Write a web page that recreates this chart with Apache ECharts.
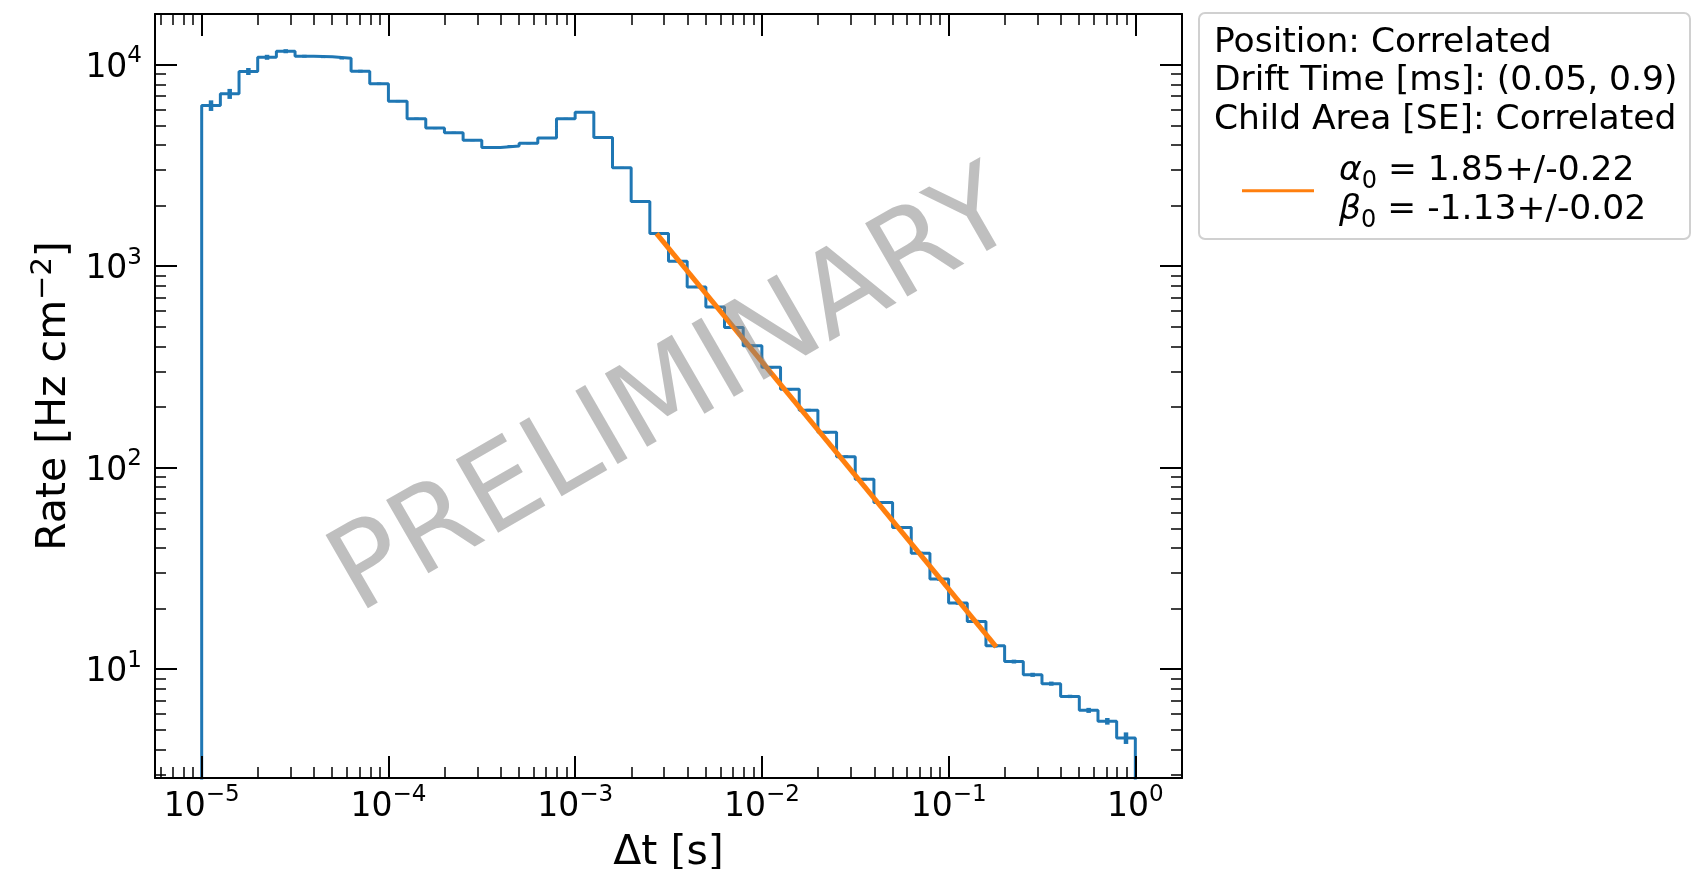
<!DOCTYPE html>
<html>
<head>
<meta charset="utf-8">
<script src="https://cdn.jsdelivr.net/npm/echarts@6/dist/echarts.min.js"></script>
<style>
html,body{margin:0;padding:0;background:#fff;}
#chart{width:1702px;height:869px;}
</style>
</head>
<body>
<div id="chart"></div>
<script>
// ---------------- data ----------------
// log10 of the histogram bin edges (10 bins per decade, 1e-5 .. 1 s)
const edgeExponents = [
  -5.0,-4.9,-4.8,-4.7,-4.6,-4.5,-4.4,-4.3,-4.2,-4.1,
  -4.0,-3.9,-3.8,-3.7,-3.6,-3.5,-3.4,-3.3,-3.2,-3.1,
  -3.0,-2.9,-2.8,-2.7,-2.6,-2.5,-2.4,-2.3,-2.2,-2.1,
  -2.0,-1.9,-1.8,-1.7,-1.6,-1.5,-1.4,-1.3,-1.2,-1.1,
  -1.0,-0.9,-0.8,-0.7,-0.6,-0.5,-0.4,-0.3,-0.2,-0.1,
   0.0
];
// rate per bin [Hz cm^-2]
const rates = [
  6280, 7180, 9270, 10900, 11680, 11030, 10950, 10780, 9300, 8050,
  6600, 5400, 4850, 4600, 4220, 3890, 3950, 4075, 4330, 5400,
  5820, 4360, 3080, 2094, 1452, 1059, 789, 628, 497, 403,
  315, 245, 193, 149.8, 113.4, 87.6, 67.1, 50.4, 37.6, 27.97,
  21.27, 17.24, 13.06, 10.9, 9.37, 8.47, 7.32, 6.24, 5.51, 4.55
];
// statistical uncertainty per bin
const rateErrors = [
  380, 410, 370, 310, 270, 180, 160, 160, 150, 120,
  90, 70, 60, 55, 50, 45, 45, 45, 50, 60,
  60, 50, 35, 25, 17, 13, 10, 8, 6.5, 5.5,
  4.5, 3.5, 3, 2.3, 1.8, 1.4, 1.1, 0.85, 0.65, 0.5,
  0.4, 0.33, 0.27, 0.24, 0.22, 0.2, 0.14, 0.18, 0.21, 0.3
];
// power-law fit drawn over its fit range
const fitX = [0.00273, 0.18];
const fitY = [1452, 12.9];

// axes
const xRange = [5.623e-6, 1.778];
const yRange = [2.88, 17870];
const xMajorTicks = [1e-5, 1e-4, 1e-3, 1e-2, 1e-1, 1];
const yMajorTicks = [1e1, 1e2, 1e3, 1e4];
const minorMantissas = [2, 3, 4, 5, 6, 7, 8, 9];
const xMinorDecades = [1e-6, 1e-5, 1e-4, 1e-3, 1e-2, 1e-1, 1];
const yMinorDecades = [1, 10, 100, 1000, 10000];

// texts
const xTitle = 'Δt [s]';
const legendLines = ['Position: Correlated', 'Drift Time [ms]: (0.05, 0.9)', 'Child Area [SE]: Correlated'];
const fitAlpha = '1.85+/-0.22';
const fitBeta = '-1.13+/-0.02';
const watermark = 'PRELIMINARY';

// ---------------- build ----------------
function minorTicks(decades, range) {
  const out = [];
  decades.forEach(d => minorMantissas.forEach(m => {
    const v = +(m * d).toPrecision(6);
    if (v >= range[0] && v <= range[1]) out.push(v);
  }));
  return out;
}
const xMinorTicks = minorTicks(xMinorDecades, xRange);
const yMinorTicks = minorTicks(yMinorDecades, yRange);

const edges = edgeExponents.map(e => Math.pow(10, e));
const baseline = 1; // below the axis minimum, clipped like a zero baseline
const stepData = [[edges[0], baseline]];
rates.forEach((r, i) => stepData.push([edges[i], r]));
stepData.push([edges[edges.length - 1], rates[rates.length - 1]]);
stepData.push([edges[edges.length - 1], baseline]);

const errData = rates.map((r, i) => [Math.sqrt(edges[i] * edges[i + 1]), r - rateErrors[i], r + rateErrors[i]]);

const FONT = 'DejaVu Sans';
function supLabel(v) {
  const e = Math.round(Math.log10(v));
  const s = e < 0 ? '\u2212' + (-e) : String(e);
  return '{b|10}{s|' + s + '}';
}
const labelRich = {
  b: {fontSize: 33, fontFamily: FONT, color: '#000', lineHeight: 40, verticalAlign: 'bottom'},
  s: {fontSize: 23, fontFamily: FONT, color: '#000', lineHeight: 22, verticalAlign: 'top'}
};

function axisBase(pos, range) {
  return {
    type: 'log', logBase: 10, min: range[0], max: range[1], position: pos, z: 5,
    splitLine: {show: false}, minorTick: {show: false}, minorSplitLine: {show: false}
  };
}
function majorAxis(pos, range, ticks, withLabels, extra) {
  return Object.assign(axisBase(pos, range), {
    axisLine: {show: true, onZero: false, lineStyle: {color: '#000', width: 2}},
    axisTick: {show: true, inside: true, length: 22, lineStyle: {color: '#000', width: 2}, customValues: ticks},
    axisLabel: withLabels ? {
      show: true, customValues: ticks, formatter: supLabel, rich: labelRich,
      fontSize: 33, fontFamily: FONT, color: '#000'
    } : {show: false}
  }, extra || {});
}
function minorAxis(pos, range, ticks) {
  return Object.assign(axisBase(pos, range), {
    axisLine: {show: false},
    axisTick: {show: true, inside: true, length: 11, lineStyle: {color: '#000', width: 1.5}, customValues: ticks},
    axisLabel: {show: false}
  });
}

const xMain = majorAxis('bottom', xRange, xMajorTicks, true, {
  name: xTitle, nameLocation: 'middle', nameGap: 55,
  nameTextStyle: {fontSize: 41, fontFamily: FONT, color: '#000'}
});
xMain.axisLabel.margin = 6;
const yMain = majorAxis('left', yRange, yMajorTicks, true, {
  name: '{a|Rate [Hz cm}{s|\u22122}{a|]}', nameLocation: 'middle', nameGap: 79,
  nameTextStyle: {rich: {
    a: {fontSize: 41, fontFamily: FONT, color: '#000', lineHeight: 46, verticalAlign: 'bottom'},
    s: {fontSize: 29, fontFamily: FONT, color: '#000', lineHeight: 26, verticalAlign: 'top'}
  }}
});
yMain.axisLabel.margin = 13;

const LFS = 34.5;
const legendTextStyle = {fontSize: LFS, fontFamily: FONT, fill: '#000', align: 'left', verticalAlign: 'middle'};
const fitRich = {
  g: {fontSize: LFS, fontFamily: FONT, fontStyle: 'italic', fill: '#000', lineHeight: 40, verticalAlign: 'top'},
  n: {fontSize: LFS, fontFamily: FONT, fill: '#000', lineHeight: 40, verticalAlign: 'top'},
  u: {fontSize: 24, fontFamily: FONT, fill: '#000', lineHeight: 30, verticalAlign: 'bottom'}
};

const option = {
  backgroundColor: '#fff',
  animation: false,
  grid: {left: 155, top: 14, width: 1027, height: 764, containLabel: false, outerBoundsMode: 'none'},
  xAxis: [
    xMain,
    minorAxis('bottom', xRange, xMinorTicks),
    majorAxis('top', xRange, xMajorTicks, false),
    minorAxis('top', xRange, xMinorTicks)
  ],
  yAxis: [
    yMain,
    minorAxis('left', yRange, yMinorTicks),
    majorAxis('right', yRange, yMajorTicks, false),
    minorAxis('right', yRange, yMinorTicks)
  ],
  series: [
    {
      type: 'line', name: 'rate', data: stepData, step: 'end', xAxisIndex: 0, yAxisIndex: 0,
      showSymbol: false, symbol: 'none', clip: true, z: 2,
      lineStyle: {color: '#1f77b4', width: 3}, itemStyle: {color: '#1f77b4'}
    },
    {
      type: 'custom', name: 'errors', data: errData, xAxisIndex: 0, yAxisIndex: 0, z: 2, clip: true,
      encode: {x: 0, y: [1, 2]},
      renderItem: function (params, api) {
        const p1 = api.coord([api.value(0), api.value(1)]);
        const p2 = api.coord([api.value(0), api.value(2)]);
        return {type: 'line', shape: {x1: p1[0], y1: p1[1], x2: p2[0], y2: p2[1]},
                style: {stroke: '#1f77b4', lineWidth: 4.5}};
      }
    },
    {
      type: 'line', name: 'fit', data: fitX.map((x, i) => [x, fitY[i]]), xAxisIndex: 0, yAxisIndex: 0,
      showSymbol: false, symbol: 'none', z: 3,
      lineStyle: {color: '#ff7f0e', width: 5, cap: 'butt'}
    }
  ],
  graphic: [
    {type: 'text', x: 675, y: 396, rotation: Math.PI / 6, z: 50, silent: true,
     style: {text: watermark, fontSize: 116, fontFamily: FONT, fill: 'rgba(128,128,128,0.5)', align: 'center', verticalAlign: 'middle'}},
    {type: 'rect', z: 60, shape: {x: 1199, y: 13, width: 491, height: 226, r: 6},
     style: {fill: 'rgba(255,255,255,0.8)', stroke: '#d0d0d0', lineWidth: 2}},
    {type: 'text', z: 61, x: 1214, y: 43, style: Object.assign({text: legendLines[0]}, legendTextStyle)},
    {type: 'text', z: 61, x: 1214, y: 81.5, style: Object.assign({text: legendLines[1]}, legendTextStyle)},
    {type: 'text', z: 61, x: 1214, y: 120, style: Object.assign({text: legendLines[2]}, legendTextStyle)},
    {type: 'line', z: 61, shape: {x1: 1242, y1: 190.7, x2: 1314, y2: 190.7}, style: {stroke: '#ff7f0e', lineWidth: 3}},
    {type: 'text', z: 61, x: 1339, y: 154, style: {text: '{g|\u03b1}{u|0}{n| = ' + fitAlpha + '}', rich: fitRich, align: 'left', verticalAlign: 'top'}},
    {type: 'text', z: 61, x: 1339, y: 192.5, style: {text: '{g|\u03b2}{u|0}{n| = ' + fitBeta + '}', rich: fitRich, align: 'left', verticalAlign: 'top'}}
  ]
};

const chart = echarts.init(document.getElementById('chart'), null, {renderer: 'canvas'});
chart.setOption(option);
</script>
</body>
</html>
